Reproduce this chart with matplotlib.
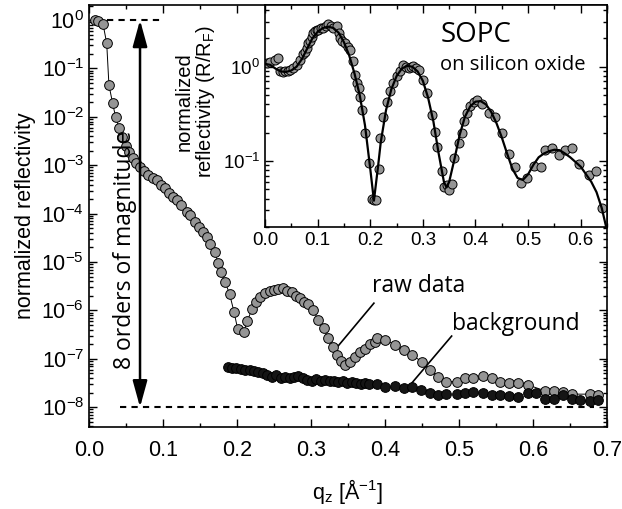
import numpy as np
import matplotlib
matplotlib.use("Agg")
import matplotlib.pyplot as plt
from matplotlib.ticker import FixedLocator, MultipleLocator, FuncFormatter, NullFormatter

plt.rcParams['font.family'] = ['Liberation Sans', 'DejaVu Sans']
plt.rcParams['mathtext.default'] = 'regular'

# main panel: raw data (q, log10 R)
q_raw = [0.008, 0.0125, 0.019, 0.024, 0.027, 0.032, 0.036, 0.041, 0.045, 0.050,
         0.0545, 0.059, 0.0635, 0.069, 0.074, 0.080, 0.086, 0.0915, 0.097, 0.103,
         0.1085, 0.114, 0.1185, 0.125, 0.132, 0.136, 0.143, 0.149, 0.154, 0.160,
         0.164, 0.170, 0.175, 0.178, 0.184, 0.190, 0.196, 0.201, 0.209, 0.214,
         0.220, 0.226, 0.231, 0.238, 0.244, 0.250, 0.256, 0.262, 0.268, 0.274,
         0.280, 0.285, 0.291, 0.296, 0.303, 0.310, 0.317, 0.323, 0.330, 0.335,
         0.341, 0.346, 0.353, 0.359, 0.366, 0.373, 0.380, 0.386, 0.389, 0.400,
         0.414, 0.425, 0.436, 0.450, 0.461, 0.472, 0.483, 0.497, 0.508, 0.519,
         0.532, 0.544, 0.556, 0.568, 0.580, 0.593, 0.616, 0.628, 0.640, 0.652,
         0.677, 0.688]
logr_raw = [0.0, -0.01, -0.08, -0.48, -1.34, -1.72, -2.0, -2.24, -2.41, -2.6,
            -2.72, -2.86, -2.96, -3.03, -3.11, -3.20, -3.27, -3.31, -3.41, -3.48,
            -3.57, -3.65, -3.72, -3.82, -3.96, -4.03, -4.17, -4.27, -4.37, -4.48,
            -4.62, -4.80, -5.03, -5.2, -5.41, -5.66, -6.03, -6.39, -6.45, -6.22,
            -5.98, -5.82, -5.72, -5.63, -5.59, -5.58, -5.56, -5.54, -5.60, -5.62,
            -5.70, -5.75, -5.82, -5.86, -6.00, -6.20, -6.37, -6.56, -6.75, -6.92,
            -7.04, -7.13, -7.06, -6.96, -6.85, -6.79, -6.69, -6.65, -6.58, -6.61,
            -6.71, -6.82, -6.92, -7.06, -7.23, -7.37, -7.47, -7.47, -7.40, -7.40,
            -7.36, -7.40, -7.47, -7.49, -7.49, -7.54, -7.66, -7.66, -7.68, -7.73,
            -7.73, -7.75]

# main panel: background
q_bg = [0.188, 0.193, 0.199, 0.205, 0.211, 0.217, 0.223, 0.229, 0.235, 0.241,
        0.247, 0.253, 0.259, 0.265, 0.271, 0.277, 0.283, 0.289, 0.295, 0.301,
        0.307, 0.313, 0.319, 0.325, 0.331, 0.337, 0.343, 0.349, 0.355, 0.361,
        0.367, 0.373, 0.379, 0.389, 0.400, 0.414, 0.425, 0.436, 0.448, 0.461,
        0.472, 0.483, 0.497, 0.508, 0.519, 0.532, 0.544, 0.556, 0.568, 0.580,
        0.593, 0.604, 0.616, 0.628, 0.640, 0.652, 0.664, 0.677, 0.688]
logr_bg = [-7.16, -7.18, -7.20, -7.22, -7.23, -7.24, -7.26, -7.28, -7.30, -7.33,
           -7.37, -7.34, -7.40, -7.37, -7.40, -7.38, -7.35, -7.40, -7.43, -7.46,
           -7.42, -7.45, -7.43, -7.46, -7.45, -7.48, -7.46, -7.50, -7.48, -7.50,
           -7.52, -7.51, -7.52, -7.52, -7.58, -7.56, -7.60, -7.58, -7.64, -7.70,
           -7.75, -7.73, -7.73, -7.70, -7.68, -7.71, -7.75, -7.75, -7.77, -7.78,
           -7.71, -7.70, -7.82, -7.82, -7.75, -7.83, -7.85, -7.88, -7.85]

# inset: R/RF data
q_ins = [0.004, 0.0095, 0.019, 0.025, 0.029, 0.034, 0.038, 0.043, 0.048, 0.054,
         0.060, 0.067, 0.073, 0.076, 0.079, 0.0825, 0.086, 0.089, 0.092, 0.095,
         0.098, 0.1015, 0.106, 0.111, 0.116, 0.1206, 0.125, 0.130, 0.1365, 0.140,
         0.143, 0.147, 0.152, 0.157, 0.162, 0.168, 0.171, 0.175, 0.178, 0.181,
         0.184, 0.190, 0.197, 0.203, 0.207, 0.211, 0.217, 0.219, 0.225, 0.232,
         0.238, 0.244, 0.251, 0.256, 0.263, 0.268, 0.273, 0.278, 0.282, 0.287,
         0.292, 0.300, 0.308, 0.3175, 0.324, 0.327, 0.3365, 0.341, 0.345, 0.349,
         0.356, 0.360, 0.368, 0.375, 0.378, 0.384, 0.390, 0.397, 0.403, 0.413,
         0.425, 0.438, 0.451, 0.463, 0.476, 0.486, 0.4985, 0.511, 0.524, 0.533,
         0.546, 0.559, 0.571, 0.584, 0.597, 0.616, 0.629, 0.641]
logr_ins = [0.04, 0.05, 0.07, 0.09, -0.05, -0.06, -0.05, -0.05, -0.03, -0.015,
            0.02, 0.07, 0.13, 0.16, 0.20, 0.25, 0.27, 0.32, 0.36, 0.38,
            0.39, 0.39, 0.41, 0.41, 0.43, 0.45, 0.43, 0.41, 0.43, 0.36,
            0.305, 0.27, 0.25, 0.21, 0.18, 0.056, -0.085, -0.17, -0.227, -0.316,
            -0.457, -0.705, -1.02, -1.40, -1.41, -1.41, -1.08, -0.76, -0.53, -0.37,
            -0.26, -0.17, -0.10, -0.05, 0.02, 0.0, -0.014, 0.0, 0.004, -0.01,
            -0.03, -0.14, -0.28, -0.51, -0.69, -0.85, -1.11, -1.27, -1.25, -1.31,
            -1.24, -0.97, -0.81, -0.705, -0.58, -0.49, -0.42, -0.37, -0.35, -0.39,
            -0.49, -0.53, -0.705, -0.92, -1.06, -1.23, -1.18, -1.05, -1.06, -0.88,
            -0.865, -0.94, -0.88, -0.865, -1.03, -1.15, -1.11, -1.50]

# inset: model fit
q_fit = [0.0, 0.01, 0.02, 0.03, 0.04, 0.05, 0.06, 0.07, 0.08, 0.09, 0.10, 0.11,
         0.12, 0.13, 0.14, 0.15, 0.16, 0.17, 0.18, 0.19, 0.20, 0.207, 0.215, 0.22,
         0.23, 0.24, 0.25, 0.26, 0.27, 0.28, 0.29, 0.30, 0.31, 0.32, 0.33, 0.34,
         0.345, 0.35, 0.36, 0.37, 0.38, 0.39, 0.40, 0.41, 0.42, 0.43, 0.44, 0.45,
         0.46, 0.47, 0.48, 0.49, 0.50, 0.51, 0.52, 0.53, 0.54, 0.55, 0.56, 0.57,
         0.58, 0.59, 0.60, 0.61, 0.62, 0.63, 0.64, 0.65]
logr_fit = [0.03, 0.02, -0.02, -0.05, -0.055, -0.04, 0.0, 0.08, 0.19, 0.30, 0.37, 0.41,
            0.425, 0.41, 0.36, 0.26, 0.12, -0.07, -0.30, -0.62, -1.08, -1.42, -1.05, -0.80,
            -0.46, -0.24, -0.10, -0.02, 0.01, 0.0, -0.05, -0.15, -0.33, -0.58, -0.92, -1.22,
            -1.28, -1.22, -0.98, -0.72, -0.53, -0.42, -0.37, -0.365, -0.40, -0.48, -0.60, -0.75,
            -0.92, -1.08, -1.18, -1.20, -1.14, -1.04, -0.96, -0.92, -0.895, -0.88, -0.885, -0.92,
            -0.96, -1.01, -1.06, -1.14, -1.22, -1.33, -1.50, -1.74]

main_decades = [0, -1, -2, -3, -4, -5, -6, -7, -8]
inset_decades = [0, -1]


def pow10(v, pos):
    return r'$10^{%d}$' % int(round(np.log10(v)))


def log_ticks(axis, decades, lo, hi):
    major = [10.0 ** d for d in decades]
    minor = [m * 10.0 ** d for d in range(min(decades) - 1, max(decades) + 1)
             for m in range(2, 10) if lo <= m * 10.0 ** d <= hi]
    axis.set_major_locator(FixedLocator(major))
    axis.set_minor_locator(FixedLocator(minor))
    axis.set_major_formatter(FuncFormatter(pow10))
    axis.set_minor_formatter(NullFormatter())


fig = plt.figure(figsize=(6.22, 5.09), dpi=100)
ax = fig.add_axes([0.143, 0.161, 0.833, 0.829])

grey = '#959595'
ax.plot(q_raw, 10 ** np.array(logr_raw), '-', color='black', lw=0.7, zorder=2)
ax.plot(q_raw, 10 ** np.array(logr_raw), 'o', ms=7, mfc=grey, mec='black', mew=0.7, zorder=3)
ax.plot(q_bg, 10 ** np.array(logr_bg), 'o', ms=7, mfc='#151515', mec='black', mew=0.7, zorder=4)

ylo, yhi = 10 ** -8.41, 10 ** 0.31
ax.set_yscale('log')
ax.set_xlim(0, 0.7)
ax.set_ylim(ylo, yhi)
ax.xaxis.set_major_locator(MultipleLocator(0.1))
ax.xaxis.set_minor_locator(MultipleLocator(0.05))
ax.xaxis.set_major_formatter(FuncFormatter(lambda v, p: '%.1f' % v))
log_ticks(ax.yaxis, main_decades, ylo, yhi)
ax.tick_params(which='both', direction='in', top=True, right=True, width=1.0)
ax.tick_params(which='major', length=5.5, labelsize=15.5)
ax.tick_params(axis='x', which='major', pad=9)
ax.tick_params(which='minor', length=3)
for s in ax.spines.values():
    s.set_linewidth(1.2)
ax.set_xlabel(r'q$_z$ [Å$^{-1}$]', fontsize=15.5, labelpad=12)
ax.set_ylabel('normalized reflectivity', fontsize=15.5, labelpad=4)

# dashed reference lines and the double arrow
ax.plot([0.024, 0.1], [1, 1], '--', color='black', lw=1.5, dashes=(3, 2.5))
ax.plot([0.042, 0.682], [1e-8, 1e-8], '--', color='black', lw=1.5, dashes=(3, 2.5))
ax.annotate('', xy=(0.069, 1.0), xytext=(0.069, 1e-8),
            arrowprops=dict(arrowstyle='<|-|>,head_length=0.8,head_width=0.22',
                            color='black', lw=1.8, mutation_scale=20,
                            shrinkA=0, shrinkB=0))
ax.text(0.049, 10 ** -4.75, '8 orders of magnitude', rotation=90, ha='center',
        va='center', fontsize=16.5, family='Open Sans')

# labels with pointer lines
ax.plot([0.385, 0.332], [10 ** -5.85, 10 ** -6.82], color='black', lw=1.2)
ax.text(0.382, 10 ** -5.50, 'raw data', fontsize=16.5, family='Open Sans', va='center')
ax.plot([0.49, 0.434], [10 ** -6.53, 10 ** -7.54], color='black', lw=1.2)
ax.text(0.490, 10 ** -6.28, 'background', fontsize=16.5, family='Open Sans', va='center')

# inset
ins = fig.add_axes([0.426, 0.554, 0.550, 0.436])
ins.plot(q_ins, 10 ** np.array(logr_ins), 'o', ms=6.5, mfc=grey, mec='black', mew=0.7, zorder=2)
ins.plot(q_fit, 10 ** np.array(logr_fit), '-', color='black', lw=1.6, zorder=3)
ins.set_yscale('log')
ins.set_xlim(0, 0.65)
ins.set_ylim(0.02, 4.5)
ins.xaxis.set_major_locator(MultipleLocator(0.1))
ins.xaxis.set_minor_locator(MultipleLocator(0.05))
ins.xaxis.set_major_formatter(FuncFormatter(lambda v, p: '%.1f' % v))
log_ticks(ins.yaxis, inset_decades, 0.02, 4.5)
ins.tick_params(which='both', direction='in', top=True, right=True, width=1.0)
ins.tick_params(which='major', length=5.5, labelsize=13.5)
ins.tick_params(which='minor', length=3)
for s in ins.spines.values():
    s.set_linewidth(1.2)
ins.set_ylabel('normalized\nreflectivity (R/R$_F$)', fontsize=14.5, labelpad=2, linespacing=1.0)
ins.yaxis.set_label_coords(-0.14, 0.565)
ins.text(0.512, 0.865, 'SOPC', transform=ins.transAxes, fontsize=20, family='Open Sans',
         ha='left', va='center')
ins.text(0.512, 0.73, 'on silicon oxide', transform=ins.transAxes, fontsize=14.5,
         family='Open Sans', ha='left', va='center')

fig.savefig('out.png', dpi=100)
